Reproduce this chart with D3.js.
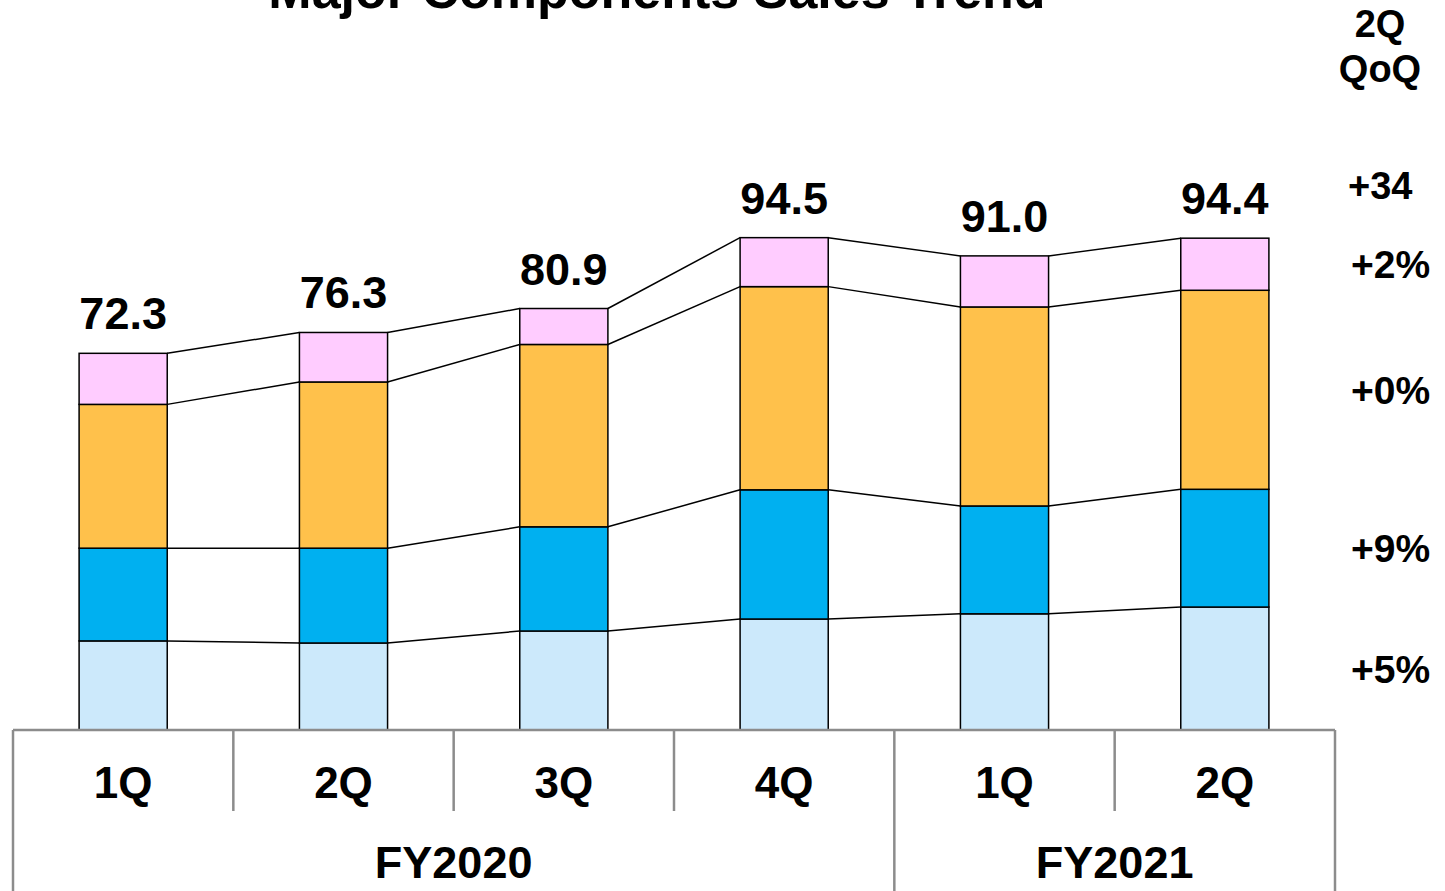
<!DOCTYPE html>
<html>
<head>
<meta charset="utf-8">
<script src="https://cdn.jsdelivr.net/npm/d3@7"></script>
<style>
  body { margin: 0; background: #fff; }
  text { font-family: "Liberation Sans", Arial, sans-serif; font-weight: bold; fill: #000; }
</style>
</head>
<body>
<div id="chart"></div>
<script>
// Quarters and fiscal years
const quarters = ["1Q", "2Q", "3Q", "4Q", "1Q", "2Q"];
const fiscalYears = ["FY2020", "FY2020", "FY2020", "FY2020", "FY2021", "FY2021"];

// Segment values (bottom to top)
const seg1 = [17.1, 16.7, 19.0, 21.3, 22.3, 23.6];   // light blue
const seg2 = [17.8, 18.2, 20.0, 24.8, 20.7, 22.6];   // blue
const seg3 = [27.6, 31.9, 35.0, 39.0, 38.2, 38.2];   // orange
const seg4 = [9.8, 9.5, 6.9, 9.4, 9.8, 10.0];        // pink
const totals = ["72.3", "76.3", "80.9", "94.5", "91.0", "94.4"];

// QoQ labels for the last quarter (total first, then segments bottom to top)
const qoqTotal = "+34";
const qoqSegments = ["+5%", "+9%", "+0%", "+2%"];

const colors = ["#cce9fb", "#00b0f0", "#ffc14b", "#ffccff"];

const W = 1445, H = 891;
const svg = d3.select("#chart").append("svg")
    .attr("width", W)
    .attr("height", H);

const keys = quarters.map((q, i) => fiscalYears[i] + " " + q);
const rows = keys.map((k, i) => ({key: k, s0: seg1[i], s1: seg2[i], s2: seg3[i], s3: seg4[i]}));
const stack = d3.stack().keys(["s0", "s1", "s2", "s3"]);
const series = stack(rows);

// Scales
const x = d3.scaleBand().domain(keys).range([13, 1335]).paddingInner(0.6).paddingOuter(0.3);
const cell = d3.scaleBand().domain(keys).range([13, 1335]).padding(0);
const baseY = 730;
const y = d3.scaleLinear().domain([0, 100]).range([baseY, baseY - 521]);

// Title (clipped by the top of the page, as in the original slide)
svg.append("text")
    .attr("x", 657)
    .attr("y", 8)
    .attr("text-anchor", "middle")
    .style("font-size", "52px")
    .text("Major Components Sales Trend");

// Connector lines between bars at each stack level
series.forEach(s => {
    for (let i = 0; i < keys.length - 1; i++) {
        svg.append("line")
            .attr("x1", x(keys[i]) + x.bandwidth())
            .attr("x2", x(keys[i + 1]))
            .attr("y1", y(s[i][1]))
            .attr("y2", y(s[i + 1][1]))
            .attr("stroke", "#000")
            .attr("stroke-width", 1.5);
    }
});

// Stacked bars
svg.selectAll("g.layer")
    .data(series)
    .enter().append("g")
    .attr("class", "layer")
    .attr("fill", (d, i) => colors[i])
    .selectAll("rect")
    .data(d => d)
    .enter().append("rect")
    .attr("x", d => x(d.data.key))
    .attr("width", x.bandwidth())
    .attr("y", d => y(d[1]))
    .attr("height", d => y(d[0]) - y(d[1]))
    .attr("stroke", "#000")
    .attr("stroke-width", 1.5);

// Total labels
const topLayer = series[series.length - 1];
svg.selectAll(".total")
    .data(totals)
    .enter().append("text")
    .attr("class", "total")
    .attr("x", (d, i) => x(keys[i]) + x.bandwidth() / 2)
    .attr("y", (d, i) => y(topLayer[i][1]) - 24)
    .attr("text-anchor", "middle")
    .style("font-size", "45px")
    .text(d => d);

// Category axis box
const grid = svg.append("g").attr("stroke", "#8c8c8c").attr("stroke-width", 2.5);
grid.append("line").attr("x1", 13).attr("x2", 1335).attr("y1", baseY).attr("y2", baseY);
keys.forEach((k, i) => {
    const xl = cell(k);
    const yearStart = i === 0 || fiscalYears[i] !== fiscalYears[i - 1];
    grid.append("line")
        .attr("x1", xl).attr("x2", xl)
        .attr("y1", baseY).attr("y2", yearStart ? H : 811);
});
grid.append("line").attr("x1", 1335).attr("x2", 1335).attr("y1", baseY).attr("y2", H);

// Quarter labels
svg.selectAll(".qlabel")
    .data(quarters)
    .enter().append("text")
    .attr("class", "qlabel")
    .attr("x", (d, i) => cell(keys[i]) + cell.bandwidth() / 2)
    .attr("y", 798)
    .attr("text-anchor", "middle")
    .style("font-size", "44px")
    .text(d => d);

// Fiscal year labels
const years = Array.from(new Set(fiscalYears));
years.forEach(fy => {
    const idx = keys.filter((k, i) => fiscalYears[i] === fy);
    const x0 = cell(idx[0]);
    const x1 = cell(idx[idx.length - 1]) + cell.bandwidth();
    svg.append("text")
        .attr("x", (x0 + x1) / 2)
        .attr("y", 878)
        .attr("text-anchor", "middle")
        .style("font-size", "45px")
        .text(fy);
});

// QoQ column
svg.append("text").attr("x", 1380).attr("y", 37).attr("text-anchor", "middle")
    .style("font-size", "38px").text("2Q");
svg.append("text").attr("x", 1380).attr("y", 82).attr("text-anchor", "middle")
    .style("font-size", "38px").text("QoQ");

const last = keys.length - 1;
svg.append("text")
    .attr("x", 1348)
    .attr("y", y(topLayer[last][1]) - 39)
    .style("font-size", "38px")
    .text(qoqTotal);

series.forEach((s, j) => {
    svg.append("text")
        .attr("x", 1351)
        .attr("y", (y(s[last][0]) + y(s[last][1])) / 2)
        .attr("dy", "0.36em")
        .style("font-size", "39px")
        .text(qoqSegments[j]);
});
</script>
</body>
</html>
